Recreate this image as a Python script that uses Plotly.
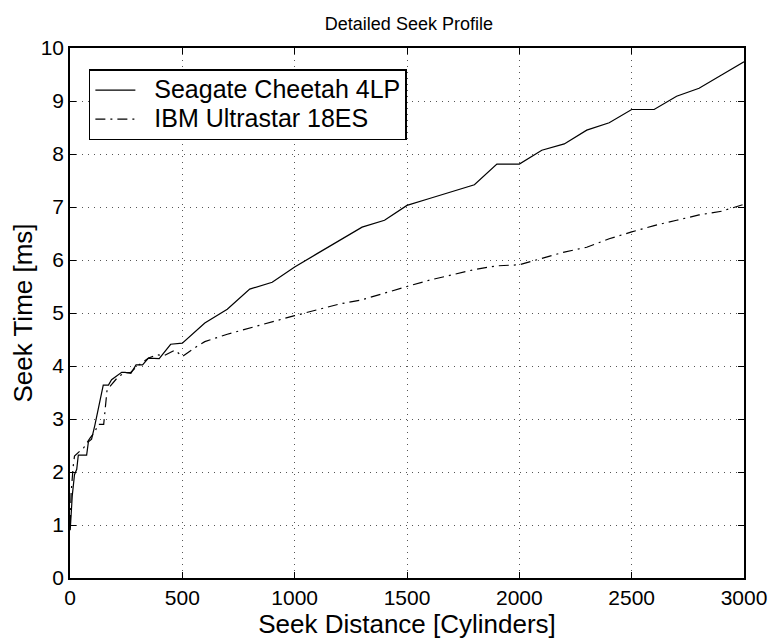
import plotly.graph_objects as go

# Seagate Cheetah 4LP
seagate_x = [1, 5, 10, 20, 30, 37, 74, 82, 96, 111, 148, 171, 185, 230, 245, 271, 294, 323, 349, 397,
             448, 500, 600, 700, 800, 900, 1000, 1100, 1200, 1300, 1400, 1500, 1600, 1700, 1800,
             1900, 2000, 2100, 2200, 2300, 2400, 2500, 2600, 2700, 2800, 2900, 3000]
seagate_y = [0.9, 1.3, 1.55, 1.95, 2.05, 2.32, 2.32, 2.57, 2.62, 2.89, 3.64, 3.64, 3.74, 3.88, 3.88, 3.86,
             4.02, 4.02, 4.15, 4.14, 4.41, 4.43, 4.81, 5.07, 5.45, 5.58, 5.87, 6.12, 6.37, 6.62, 6.75,
             7.03, 7.16, 7.29, 7.42, 7.81, 7.81, 8.07, 8.19, 8.45, 8.59, 8.84, 8.84, 9.09, 9.24, 9.49, 9.74]

# IBM Ultrastar 18ES
ibm_x = [1, 5, 14, 20, 40, 60, 89, 110, 125, 150, 165, 180, 215, 245, 270, 300, 350, 386, 420, 467,
         500, 568, 600, 700, 800, 900, 1000, 1100, 1200, 1300, 1400, 1500, 1600, 1700, 1800, 1900,
         2000, 2100, 2200, 2300, 2400, 2500, 2600, 2700, 2800, 2900, 3000]
ibm_y = [1.0, 1.6, 2.1, 2.3, 2.38, 2.45, 2.64, 2.75, 2.9, 2.9, 3.55, 3.63, 3.8, 3.87, 3.88, 4.0, 4.15,
         4.21, 4.2, 4.3, 4.18, 4.38, 4.46, 4.6, 4.72, 4.84, 4.95, 5.06, 5.17, 5.25, 5.38, 5.5, 5.62,
         5.72, 5.82, 5.89, 5.91, 6.03, 6.15, 6.24, 6.4, 6.53, 6.65, 6.75, 6.85, 6.92, 7.05]

series_names = ["Seagate Cheetah 4LP", "IBM Ultrastar 18ES"]
x_ticks = [0, 500, 1000, 1500, 2000, 2500, 3000]
y_ticks = list(range(0, 11))

FONT = "Liberation Sans, Arial, sans-serif"


def legend_label(name):
    return "<span style='font-size:25px'>\u00a0\u00a0" + name + "</span>"


fig = go.Figure()
fig.add_trace(go.Scatter(x=seagate_x, y=seagate_y, mode="lines", name=legend_label(series_names[0]),
                         line=dict(color="black", width=1.2)))
fig.add_trace(go.Scatter(x=ibm_x, y=ibm_y, mode="lines", name=legend_label(series_names[1]),
                         line=dict(color="black", width=1.2, dash="10px,5px,2px,5px")))

axis_common = dict(showline=True, linecolor="black", linewidth=1.5, mirror="ticks",
                   ticks="inside", ticklen=6, tickcolor="black", automargin=False,
                   showgrid=True, gridcolor="#555555", griddash="1px,5px", gridwidth=1,
                   zeroline=False, tickfont=dict(family=FONT, size=21, color="black"))

fig.update_xaxes(range=[0, 3000], tickvals=x_ticks,
                 title=dict(text="Seek Distance [Cylinders]", font=dict(family=FONT, size=26, color="black"),
                            standoff=0),
                 **axis_common)
fig.update_yaxes(range=[0, 10], tickvals=y_ticks,
                 title=dict(text="Seek Time [ms]", font=dict(family=FONT, size=26, color="black"),
                            standoff=5),
                 **axis_common)

fig.update_layout(
    width=768, height=633,
    margin=dict(l=62, r=32, t=40, b=63),
    paper_bgcolor="white", plot_bgcolor="white",
    title=dict(text="Detailed Seek Profile", x=0.522, xanchor="center", y=0.975, yanchor="middle",
               font=dict(family=FONT, size=18, color="black")),
    showlegend=True,
    legend=dict(x=0.028, y=0.96, xanchor="left", yanchor="top",
                bgcolor="white", bordercolor="black", borderwidth=1.5,
                font=dict(family=FONT, size=20, color="black"),
                tracegroupgap=0, itemwidth=40),
)

fig.write_html("out.html")
